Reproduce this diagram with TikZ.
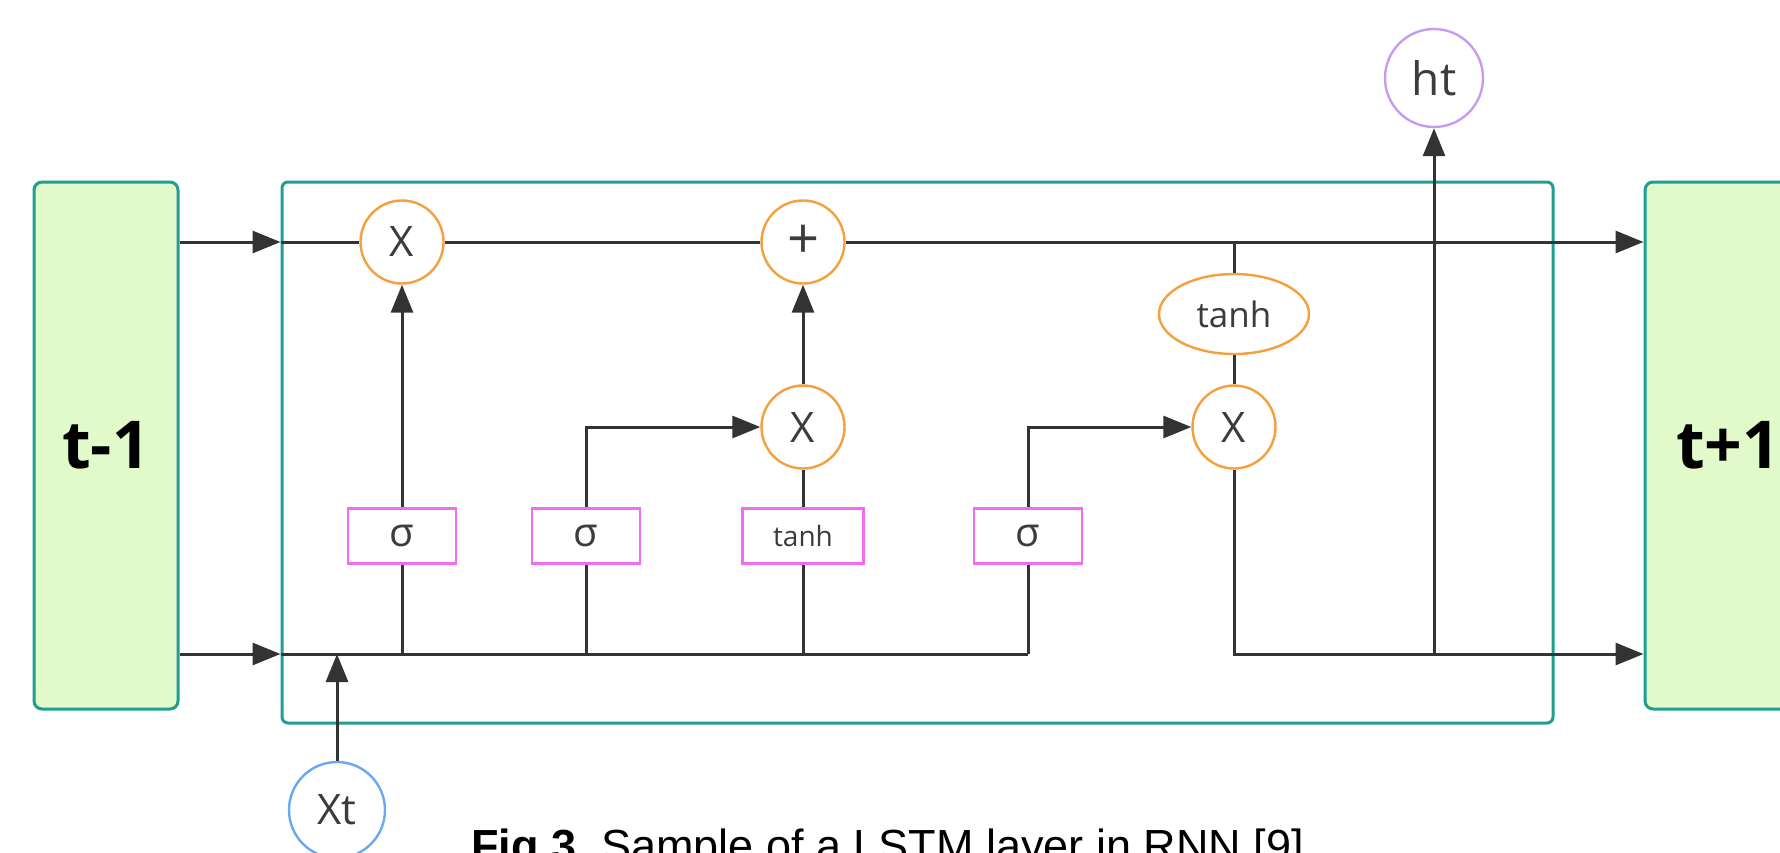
\documentclass[tikz,border=0pt]{standalone}
\usepackage{fontspec}
\setmainfont{Liberation Sans}
\newfontfamily\lab{Open Sans}
\usetikzlibrary{shapes.geometric,arrows.meta}
\definecolor{tealC}{HTML}{1F9E94}
\definecolor{greenF}{HTML}{E2F9C9}
\definecolor{orangeC}{HTML}{F5A03C}
\definecolor{magC}{HTML}{F26BF2}
\definecolor{blueC}{HTML}{6AA8F2}
\definecolor{violetC}{HTML}{C79BF2}
\definecolor{lineC}{HTML}{333333}
\definecolor{txtC}{HTML}{3C3C3C}
\begin{document}
\begin{tikzpicture}[x=0.5pt,y=-0.5pt,
  arr/.style={-{Triangle[length=14pt,width=11pt]}},
  conn/.style={draw=lineC,line width=1.5pt},
  tbox/.style={rectangle,rounded corners=4pt,draw=tealC,line width=1.5pt,fill=greenF,
    minimum width=72pt,minimum height=263.5pt,inner sep=0pt,text=black,
    font=\lab\bfseries\fontsize{33}{33}\selectfont},
  cellbox/.style={rectangle,rounded corners=3pt,draw=tealC,line width=1.5pt,
    minimum width=635.5pt,minimum height=270.5pt,inner sep=0pt},
  gate/.style={circle,draw=orangeC,line width=1.2pt,fill=white,minimum size=41.5pt,
    inner sep=0pt,text=txtC,font=\lab\fontsize{21}{21}\selectfont},
  ell/.style={ellipse,draw=orangeC,line width=1.2pt,fill=white,minimum width=75pt,
    minimum height=40pt,inner sep=0pt,text=txtC,font=\lab\fontsize{17.5}{17.5}\selectfont},
  sbox/.style={rectangle,draw=magC,line width=1.4pt,fill=white,minimum width=54pt,
    minimum height=27.5pt,inner sep=0pt,text=txtC,font=\lab\fontsize{20}{20}\selectfont},
  iocirc/.style={circle,line width=1.2pt,fill=white,minimum size=48pt,inner sep=0pt,
    text=txtC,font=\lab\fontsize{21}{21}\selectfont}
]
\useasboundingbox (0,0) rectangle (1780,852);
\clip (0,0) rectangle (1780,852);
\fill[white] (0,0) rectangle (1780,852);

% boxes
\node[tbox] (tm1) at (106,445.5) {t-1};
\node[tbox,minimum width=83pt] (tp1) at (1728,445.5) {t+1};
\node[cellbox] (cell) at (917.5,452.5) {};

% operations
\node[gate] (x1) at (402,242) {X};
\node[gate,font=\lab\fontsize{28}{28}\selectfont] (plus) at (803,242) {+};
\node[gate] (x2) at (803,427) {X};
\node[gate] (x3) at (1234,427) {X};
\node[ell] (tE) at (1234,314) {tanh};

\node[sbox] (s1) at (402,536) {σ};
\node[sbox] (s2) at (586,536) {σ};
\node[sbox,minimum width=60.5pt,font=\lab\fontsize{14}{14}\selectfont] (tb) at (803,536) {tanh};
\node[sbox] (s3) at (1028,536) {σ};

\node[iocirc,draw=blueC] (xt) at (337,810) {Xt};
\node[iocirc,draw=violetC,minimum size=49pt,font=\lab\fontsize{23}{23}\selectfont] (ht) at (1434,78) {ht};

\coordinate (bot) at (0,654);
\coordinate (hj) at (1434,654);

% cell state line
\draw[conn,arr] (tm1.east |- x1) -- (cell.west |- x1);
\draw[conn] (cell.west |- x1) -- (x1.west);
\draw[conn] (x1.east) -- (plus.west);
\draw[conn,arr] (plus.east) -- (tp1.west |- plus);

% input line
\draw[conn,arr] (tm1.east |- bot) -- (cell.west |- bot);
\draw[conn] (cell.west |- bot) -- (s3 |- bot);
\draw[conn] (s1.south) -- (s1 |- bot);
\draw[conn] (s2.south) -- (s2 |- bot);
\draw[conn] (tb.south) -- (tb |- bot);
\draw[conn] (s3.south) -- (s3 |- bot);
\draw[conn,arr] (xt.north) -- (xt |- bot);

% gates
\draw[conn,arr] (s1.north) -- (x1.south);
\draw[conn,arr] (s2.north) |- (x2.west);
\draw[conn] (tb.north) -- (x2.south);
\draw[conn,arr] (x2.north) -- (plus.south);
\draw[conn,arr] (s3.north) |- (x3.west);
\draw[conn] (x3.north) -- (tE.south);
\draw[conn] (tE.north) -- (tE |- plus);

% output
\draw[conn,arr] (x3.south) |- (tp1.west |- bot);
\draw[conn,arr] (hj) -- (ht.south);

% caption
\node[anchor=base west,inner sep=0pt,font=\fontsize{22.5}{22.5}\selectfont] (cap) at (471,861)
  {\textbf{Fig.3}\hspace{0.55em}Sample of a LSTM layer in RNN [9]};
\end{tikzpicture}
\end{document}
